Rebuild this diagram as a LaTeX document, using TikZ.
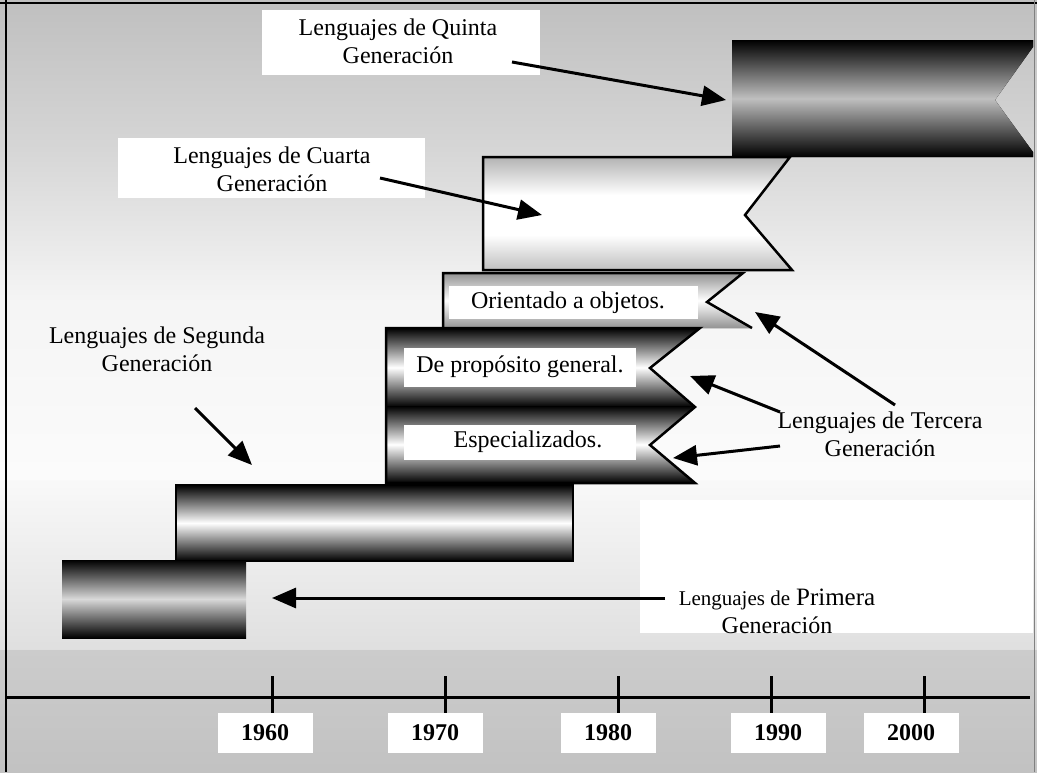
\documentclass[tikz,border=0pt]{standalone}
\usepackage{fontspec}
\setmainfont{Liberation Serif}
\usetikzlibrary{arrows.meta}
\begin{document}
\begin{tikzpicture}[x=1pt,y=1pt,
  lbl/.style={align=center,font=\fontsize{24}{28}\selectfont,inner sep=0pt},
  arr/.style={line width=3pt,-{Triangle[length=24pt,width=20pt]}},
  yearbox/.style={fill=white,minimum width=95pt,minimum height=40pt,inner sep=0pt,font=\fontsize{24}{26}\selectfont\bfseries},
  yeartick/.style={line width=3pt},
  baredge/.style={line width=2.5pt,line join=miter},
  txtbox/.style={font=\fontsize{24}{28}\selectfont,inner sep=0pt}]
\useasboundingbox (0,-772) rectangle (1037,0);
% background
\fill[top color=gray!50, bottom color=gray!32] (0,0) rectangle (1037,-151);
\fill[top color=gray!32, bottom color=gray!8] (0,-150) rectangle (1037,-301);
\fill[top color=gray!8, bottom color=gray!3] (0,-300) rectangle (1037,-481);
\fill[top color=gray!5, bottom color=gray!25] (0,-480) rectangle (1037,-651);
\fill[top color=gray!40, bottom color=gray!48] (0,-650) rectangle (1037,-772);
\draw[line width=2.5pt] (6,0) -- (6,-772);
\draw[line width=1.5pt] (0,-3) -- (1037,-3);
\draw[gray,line width=1pt] (1034,0) -- (1034,-772);
% white label boxes
\fill[white] (262,-10) rectangle (540,-75);
\fill[white] (118,-138) rectangle (425,-198);
\fill[white] (640,-500) rectangle (1033,-633);
% fifth generation bar
\fill[top color=black, bottom color=black, middle color=gray!50]
  (732,-40) -- (1033,-40) -- (1033,-47) -- (995,-100) -- (1033,-152) -- (1033,-157) -- (732,-157) -- cycle;
% fourth generation bar
\begin{scope}
  \clip (483,-157) -- (790,-157) -- (745,-215) -- (792,-270) -- (483,-270) -- cycle;
  \fill[white] (480,-150) rectangle (800,-275);
  \fill[top color=gray!60, bottom color=white] (480,-157) rectangle (800,-195);
  \fill[top color=white, bottom color=gray!50] (480,-235) rectangle (800,-270);
\end{scope}
\draw[baredge] (483,-157) -- (790,-157) -- (745,-215) -- (792,-270) -- (483,-270) -- cycle;
% object oriented bar
\fill[top color=gray!85, bottom color=gray!85, middle color=white]
  (443,-273) -- (743,-273) -- (707,-302) -- (752,-328) -- (443,-328) -- cycle;
\fill[white] (449,-286) rectangle (698,-319);
\draw[baredge] (443,-328) -- (443,-273) -- (743,-273) -- (707,-302) -- (752,-328);
% third generation bands
\fill[top color=black, bottom color=black, middle color=white]
  (386,-328) -- (700,-328) -- (650,-368) -- (695,-407) -- (386,-407) -- cycle;
\fill[top color=black, bottom color=black, middle color=white]
  (386,-406) -- (695,-406) -- (650,-445) -- (695,-483) -- (386,-483) -- cycle;
\fill[white] (404,-348) rectangle (636,-387);
\fill[white] (404,-425) rectangle (636,-460);
\draw[baredge] (386,-483) -- (386,-328) -- (700,-328) -- (650,-368) -- (695,-407) -- (650,-445) -- (695,-483) -- cycle;
% second generation bar
\draw[line width=2pt, top color=black, bottom color=black, middle color=white]
  (176,-485) rectangle (573,-561);
% first generation bar
\fill[top color=black, bottom color=black, middle color=gray!30]
  (62,-560) rectangle (246,-638);
% texts in bars
\node[txtbox] (oo) at (568,-303) {Orientado a objetos.};
\node[txtbox] (pg) at (520,-367) {De propósito general.};
\node[txtbox] (es) at (528,-442) {Especializados.};
% labels
\node[lbl] (l5) at (398,-41) {Lenguajes de Quinta\\Generación};
\node[lbl] (l4) at (272,-169) {Lenguajes de Cuarta\\Generación};
\node[lbl] (l2) at (157,-349) {Lenguajes de Segunda\\Generación};
\node[lbl] (l3) at (880,-434) {Lenguajes de Tercera\\Generación};
\node[lbl] (l1) at (777,-611) {{\fontsize{21}{28}\selectfont Lenguajes de} {\fontsize{25}{28}\selectfont Primera}\\Generación};
% arrows
\coordinate (a5s) at (512,-62);  \coordinate (a5e) at (726,-100);
\coordinate (a4s) at (380,-178); \coordinate (a4e) at (542,-215);
\coordinate (a2s) at (195,-408); \coordinate (a2e) at (252,-465);
\coordinate (a3s) at (895,-405); \coordinate (a3e) at (755,-312);
\coordinate (a3bs) at (780,-412); \coordinate (a3be) at (690,-376);
\coordinate (a3cs) at (780,-446); \coordinate (a3ce) at (673,-458);
\coordinate (a1s) at (665,-598); \coordinate (a1e) at (272,-598);
\draw[arr] (a5s) -- (a5e);
\draw[arr] (a4s) -- (a4e);
\draw[arr] (a2s) -- (a2e);
\draw[arr] (a3s) -- (a3e);
\draw[arr] (a3bs) -- (a3be);
\draw[arr] (a3cs) -- (a3ce);
\draw[arr] (a1s) -- (a1e);
% timeline
\draw[line width=3pt] (6,-697) -- (1030,-697);
\foreach \n/\x in {t60/272,t70/445,t80/618,t90/771,t00/924}{
  \coordinate (\n a) at (\x,-676); \coordinate (\n b) at (\x,-713);
  \draw[yeartick] (\n a) -- (\n b);
}
\node[yearbox] (y60) at (265,-733) {1960};
\node[yearbox] (y70) at (435,-733) {1970};
\node[yearbox] (y80) at (608,-733) {1980};
\node[yearbox] (y90) at (778,-733) {1990};
\node[yearbox] (y00) at (911,-733) {2000};
\end{tikzpicture}
\end{document}
